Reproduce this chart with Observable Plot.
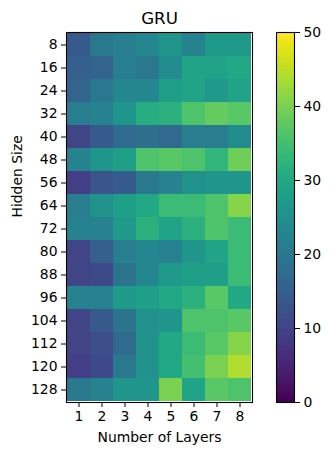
<!DOCTYPE html>
<html>
<head>
<meta charset="utf-8">
<script src="https://cdn.jsdelivr.net/npm/d3@7"></script>
<script src="https://cdn.jsdelivr.net/npm/@observablehq/plot@0.6"></script>
<style>
  html, body { margin: 0; padding: 0; background: #fff; }
  #chart { position: relative; width: 331px; height: 455px; }
  #chart svg { position: absolute; left: 0; top: 0; }
</style>
</head>
<body>
<div id="chart"></div>
<script>
const title = "GRU";
const xLabel = "Number of Layers";
const yLabel = "Hidden Size";
const layers = [1, 2, 3, 4, 5, 6, 7, 8];
const hiddenSizes = [8, 16, 24, 32, 40, 48, 56, 64, 72, 80, 88, 96, 104, 112, 120, 128];
// values per layer count, listed for hidden sizes 8..128
const layer1 = [14, 15, 16, 21, 10, 22, 9, 21, 22, 10, 10, 22, 10, 10, 9, 20];
const layer2 = [20, 16, 20, 22, 14, 26, 13, 25, 22, 15, 11, 22, 14, 12, 11, 22];
const layer3 = [21, 21, 23, 26, 17, 28, 14, 28, 27, 21, 19, 27, 19, 17, 20, 26];
const layer4 = [23, 20, 23, 31, 18, 36, 20, 30, 32, 23, 23, 28, 25, 25, 25, 26];
const layer5 = [26, 24, 28, 32, 17, 37, 22, 34, 29, 22, 27, 30, 26, 30, 30, 40];
const layer6 = [22, 29, 29, 36, 21, 36, 25, 34, 32, 26, 28, 32, 36, 34, 35, 29];
const layer7 = [27, 29, 27, 38, 21, 33, 26, 36, 36, 29, 28, 37, 36, 37, 40, 37];
const layer8 = [27, 30, 29, 37, 24, 39, 26, 41, 34, 34, 34, 30, 37, 41, 44, 36];
const colorDomain = [0, 50];
const colorTicks = [0, 10, 20, 30, 40, 50];

const series = [layer1, layer2, layer3, layer4, layer5, layer6, layer7, layer8];
const table = [];
layers.forEach((L, i) => hiddenSizes.forEach((h, j) => table.push({layers: L, hidden: h, value: series[i][j]})));

const W = 331, H = 455;
const font = {fontFamily: "'DejaVu Sans', sans-serif", fontSize: "13.9px", color: "black", background: "transparent"};
const color = {type: "linear", scheme: "viridis", domain: colorDomain};

const main = Plot.plot({
  width: W, height: H,
  marginLeft: 66, marginRight: 79, marginTop: 32, marginBottom: 53,
  style: font,
  x: {type: "band", domain: layers, padding: 0},
  y: {type: "band", domain: hiddenSizes, padding: 0},
  color,
  marks: [
    Plot.cell(table, {x: "layers", y: "hidden", fill: "value", inset: 0, shapeRendering: "crispEdges"}),
    Plot.frame({stroke: "black", strokeWidth: 1.1}),
    Plot.axisX({anchor: "bottom", tickSize: 5, tickPadding: 4, label: null}),
    Plot.axisY({anchor: "left", tickSize: 5, tickPadding: 4, label: null}),
    Plot.text([title], {text: d => d, frameAnchor: "top", dy: -14, lineAnchor: "middle", fontSize: 16.7}),
    Plot.text([xLabel], {text: d => d, frameAnchor: "bottom", dy: 35.5, lineAnchor: "middle"}),
    Plot.text([yLabel], {text: d => d, frameAnchor: "left", dx: -48.5, rotate: -90, lineAnchor: "middle"})
  ]
});

const steps = d3.range(colorDomain[0], colorDomain[1], 0.25);
const bar = Plot.plot({
  width: W, height: H,
  marginLeft: 276, marginRight: 37, marginTop: 32, marginBottom: 53,
  style: font,
  y: {type: "linear", domain: colorDomain},
  color,
  marks: [
    Plot.rect(steps, {y1: d => d, y2: d => d + 0.25, fill: d => d + 0.125, shapeRendering: "crispEdges"}),
    Plot.frame({stroke: "black", strokeWidth: 1.1}),
    Plot.axisY({anchor: "right", ticks: colorTicks, tickSize: 5, tickPadding: 4, label: null, tickFormat: d3.format("d")})
  ]
});

const el = document.getElementById("chart");
el.appendChild(main);
el.appendChild(bar);
</script>
</body>
</html>
